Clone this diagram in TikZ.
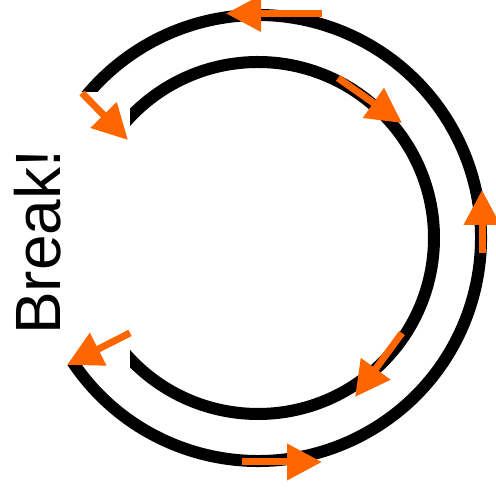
\documentclass[tikz,border=0pt]{standalone}
\usepackage{fontspec}
\setmainfont{Liberation Sans}
\usetikzlibrary{arrows.meta}
\definecolor{arrorange}{HTML}{FF6600}
\begin{document}
\begin{tikzpicture}[x=1pt,y=1pt,
  ring/.style={line width=12pt,draw=black},
  flow/.style={line width=7pt,draw=arrorange,-{Triangle[length=35pt,width=35pt]}}]
\useasboundingbox (0,0) rectangle (496,494);
\coordinate (c) at (258,256);
% outer ring
\begin{scope}
  \clip (0,402) rectangle (496,494) (0,0) rectangle (496,129) (200,0) rectangle (496,494);
  \draw[ring] (c) ++(-150:223) arc[start angle=-150,end angle=145,radius=223];
\end{scope}
% inner ring
\begin{scope}
  \clip (130,0) rectangle (496,494);
  \draw[ring] (c) ++(-140:176) arc[start angle=-140,end angle=140,radius=176];
\end{scope}
% arrows
\coordinate (a1s) at (322,480.5); \coordinate (a1e) at (226,480.5);
\coordinate (a2s) at (82,401);    \coordinate (a2e) at (128,354);
\coordinate (a3s) at (338,416);   \coordinate (a3e) at (402,371);
\coordinate (a4s) at (482,241);   \coordinate (a4e) at (482,304);
\coordinate (a5s) at (402,161);   \coordinate (a5e) at (355,97);
\coordinate (a6s) at (130,161);   \coordinate (a6e) at (67,129);
\coordinate (a7s) at (242,32);    \coordinate (a7e) at (322,32);
\draw[flow] (a1s) -- (a1e);
\draw[flow] (a2s) -- (a2e);
\draw[flow] (a3s) -- (a3e);
\draw[flow] (a4s) -- (a4e);
\draw[flow] (a5s) -- (a5e);
\draw[flow] (a6s) -- (a6e);
\draw[flow] (a7s) -- (a7e);
% label
\node[rotate=90,anchor=base west,inner sep=0pt,font=\fontsize{64}{64}\selectfont] (brk) at (61,159) {Break!};
\end{tikzpicture}
\end{document}
